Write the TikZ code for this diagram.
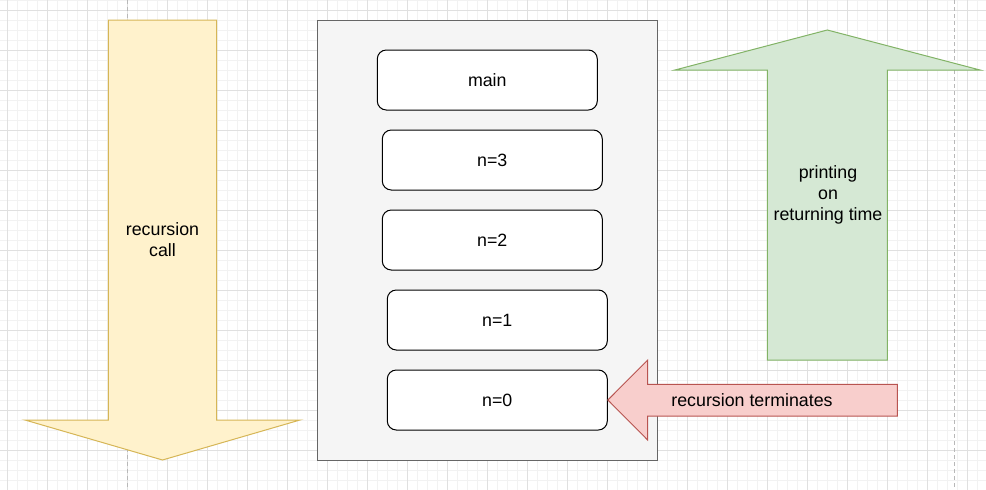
\documentclass[tikz,border=0pt]{standalone}
\usepackage{fontspec}
\setmainfont{Liberation Sans}
\usetikzlibrary{positioning}
\definecolor{callfill}{HTML}{FFF2CC}
\definecolor{calldraw}{HTML}{D6B656}
\definecolor{printfill}{HTML}{D5E8D4}
\definecolor{printdraw}{HTML}{82B366}
\definecolor{endfill}{HTML}{F8CECC}
\definecolor{enddraw}{HTML}{B85450}
\definecolor{stackfill}{HTML}{F5F5F5}
\definecolor{stackdraw}{HTML}{666666}
\definecolor{gridmajor}{HTML}{E0E0E0}
\definecolor{gridminor}{HTML}{F2F2F2}
\definecolor{pagedash}{HTML}{B8B8B8}
\tikzset
{
    framebox/.style = {rectangle, draw=black, fill=white, rounded corners=9pt, line width=1pt, align=center, minimum width=220pt, minimum height=60pt, inner sep=0pt},
    stackbox/.style = {rectangle, draw=stackdraw, fill=stackfill, line width=1pt, minimum width=340pt, minimum height=440pt, inner sep=0pt},
    arrowtext/.style = {align=center, inner sep=0pt, font=\fontsize{17.8}{21}\selectfont},
    minorline/.style = {draw=gridminor, line width=1pt},
    majorline/.style = {draw=gridmajor, line width=1pt},
    pageline/.style = {draw=pagedash, line width=1pt, dash pattern=on 4pt off 3pt}
}

\begin{document}
\begin{tikzpicture}[x=1pt, y=-1pt, font=\fontsize{17.8}{21}\selectfont]
\useasboundingbox (0,0) rectangle (986,490);
% background grid
\fill[white] (0,0) rectangle (986,490);
\foreach \x in {7,17,...,986} \draw[minorline] (\x,0) -- (\x,490);
\foreach \y in {0,10,...,490} \draw[minorline] (0,\y) -- (986,\y);
\foreach \x in {7,47,...,986} \draw[majorline] (\x,0) -- (\x,490);
\foreach \y in {10,50,...,490} \draw[majorline] (0,\y) -- (986,\y);
\draw[pageline] (127.3,0) -- (127.3,490);
\draw[pageline] (954.7,0) -- (954.7,490);

% recursion call arrow
\filldraw[fill=callfill, draw=calldraw, line width=1pt]
    (108.3,20) -- (216.7,20) -- (216.7,420) -- (300,420) -- (162.5,460)
    -- (25,420) -- (108.3,420) -- cycle;
\node[arrowtext] (call) at (162.5,240) {recursion\\call};

% call stack
\node[stackbox] (stack) at (487.3,240) {};
\node[framebox] (main) at (487.3,80) {main};
\node[framebox] (n3) at (492.3,160) {n=3};
\node[framebox] (n2) at (492.3,240) {n=2};
\node[framebox] (n1) at (497.3,320) {n=1};
\node[framebox] (n0) at (497.3,400) {n=0};

% printing arrow
\filldraw[fill=printfill, draw=printdraw, line width=1pt]
    (767.3,360) -- (887.3,360) -- (887.3,70) -- (980,70) -- (827.3,30)
    -- (675,70) -- (767.3,70) -- cycle;
\node[arrowtext] (print) at (828,195) {printing\\on\\returning time};

% terminates arrow
\filldraw[fill=endfill, draw=enddraw, line width=1pt]
    (n0.east) -- (647.7,360) -- (647.7,384.3) -- (897.3,384.3) -- (897.3,416)
    -- (647.7,416) -- (647.7,440) -- cycle;
\node[arrowtext] (stop) at (752,400) {recursion terminates};
\end{tikzpicture}
\end{document}
